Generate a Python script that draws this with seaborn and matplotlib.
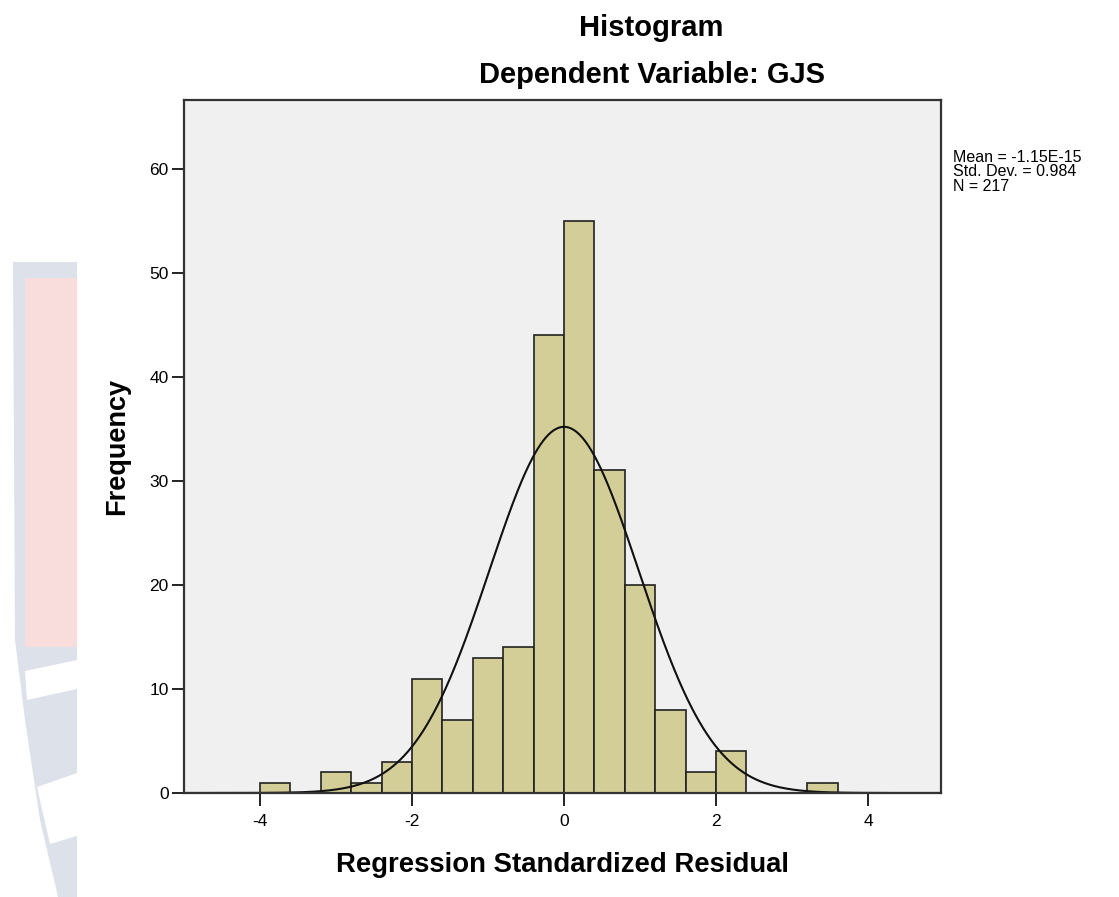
import numpy as np
import pandas as pd
import matplotlib
matplotlib.use("Agg")
import matplotlib.pyplot as plt
import seaborn as sns
from matplotlib.patches import Polygon

# SPSS histogram of regression standardized residuals (DV: GJS)
bin_edges = [-4.0, -3.6, -3.2, -2.8, -2.4, -2.0, -1.6, -1.2, -0.8, -0.4,
             0.0, 0.4, 0.8, 1.2, 1.6, 2.0, 2.4, 2.8, 3.2, 3.6]
counts = [1, 0, 2, 1, 3, 11, 7, 13, 14, 44, 55, 31, 20, 8, 2, 4, 0, 0, 1]

resid_mean = -1.15e-15
resid_sd = 0.984
n_obs = 217

x_ticks = [-4, -2, 0, 2, 4]
y_ticks = [0, 10, 20, 30, 40, 50, 60]

edges = np.array(bin_edges)
centers = (edges[:-1] + edges[1:]) / 2
bin_width = edges[1] - edges[0]
hist_df = pd.DataFrame({"residual": centers, "count": counts})

# fitted normal curve, scaled to frequency
xs = np.linspace(-5, 5, 600)
ys = n_obs * bin_width * np.exp(-0.5 * ((xs - resid_mean) / resid_sd) ** 2) / (resid_sd * np.sqrt(2 * np.pi))
curve_df = pd.DataFrame({"x": xs, "y": ys})

sns.set_style("white")
plt.rcParams["font.family"] = ["Liberation Sans", "DejaVu Sans"]
plt.rcParams["axes.unicode_minus"] = False
plt.rcParams["text.color"] = "black"
plt.rcParams["axes.labelcolor"] = "black"
plt.rcParams["xtick.color"] = "black"
plt.rcParams["ytick.color"] = "black"

W, H = 1119, 897
fig = plt.figure(figsize=(W / 100, H / 100), dpi=100)


def px(x, y):
    return (x / W, 1 - y / H)


# faint watermark logo peeking out on the left
fig.patches.append(Polygon([px(13, 262), px(77, 262), px(77, 897), px(58, 897),
                            px(40, 820), px(25, 720), px(15, 640)],
                           closed=True, transform=fig.transFigure,
                           facecolor="#dde1ea", edgecolor="none", zorder=0))
fig.patches.append(Polygon([px(25, 278), px(77, 278), px(77, 647), px(25, 647)],
                           closed=True, transform=fig.transFigure,
                           facecolor="#f9dcdc", edgecolor="none", zorder=0))
fig.patches.append(Polygon([px(25, 671), px(77, 660), px(77, 689), px(27, 700)],
                           closed=True, transform=fig.transFigure,
                           facecolor="white", edgecolor="none", zorder=0))
fig.patches.append(Polygon([px(37, 787), px(77, 773), px(77, 836), px(50, 844)],
                           closed=True, transform=fig.transFigure,
                           facecolor="white", edgecolor="none", zorder=0))

ax = fig.add_axes([184 / W, 1 - 793 / H, (941 - 184) / W, (793 - 100) / H])
ax.set_facecolor("#f0f0f0")

sns.histplot(data=hist_df, x="residual", weights="count", bins=bin_edges,
             color="#d3ce97", edgecolor="#222222", linewidth=1.2, alpha=1, ax=ax)
sns.lineplot(data=curve_df, x="x", y="y", color="#111111", linewidth=1.5, ax=ax)

ax.set_xlim(-5, 4.96)
ax.set_ylim(0, 66.6)
ax.set_xticks(x_ticks)
ax.set_yticks(y_ticks)
ax.tick_params(direction="out", length=9, width=1.4, color="#222222",
               labelsize=12.5, bottom=True, left=True)
ax.tick_params(axis="x", pad=6)
ax.tick_params(axis="y", pad=2)

for side in ["left", "bottom", "right", "top"]:
    ax.spines[side].set_color("#333333")
    ax.spines[side].set_linewidth(1.6)

ax.set_xlabel("Regression Standardized Residual", fontsize=19.8, fontweight="bold", labelpad=17)
ax.set_ylabel("Frequency", fontsize=19.5, fontweight="bold", labelpad=14)

fig.text(651 / W, 1 - 28 / H, "Histogram", ha="center", va="center",
         fontsize=21, fontweight="bold")
fig.text(652 / W, 1 - 75 / H, "Dependent Variable: GJS", ha="center", va="center",
         fontsize=21, fontweight="bold")
fig.text(953 / W, 1 - 150 / H,
         f"Mean = -1.15E-15\nStd. Dev. = {resid_sd}\nN = {n_obs}",
         ha="left", va="top", fontsize=11.5, linespacing=0.95)

fig.savefig("out.png", dpi=100)
